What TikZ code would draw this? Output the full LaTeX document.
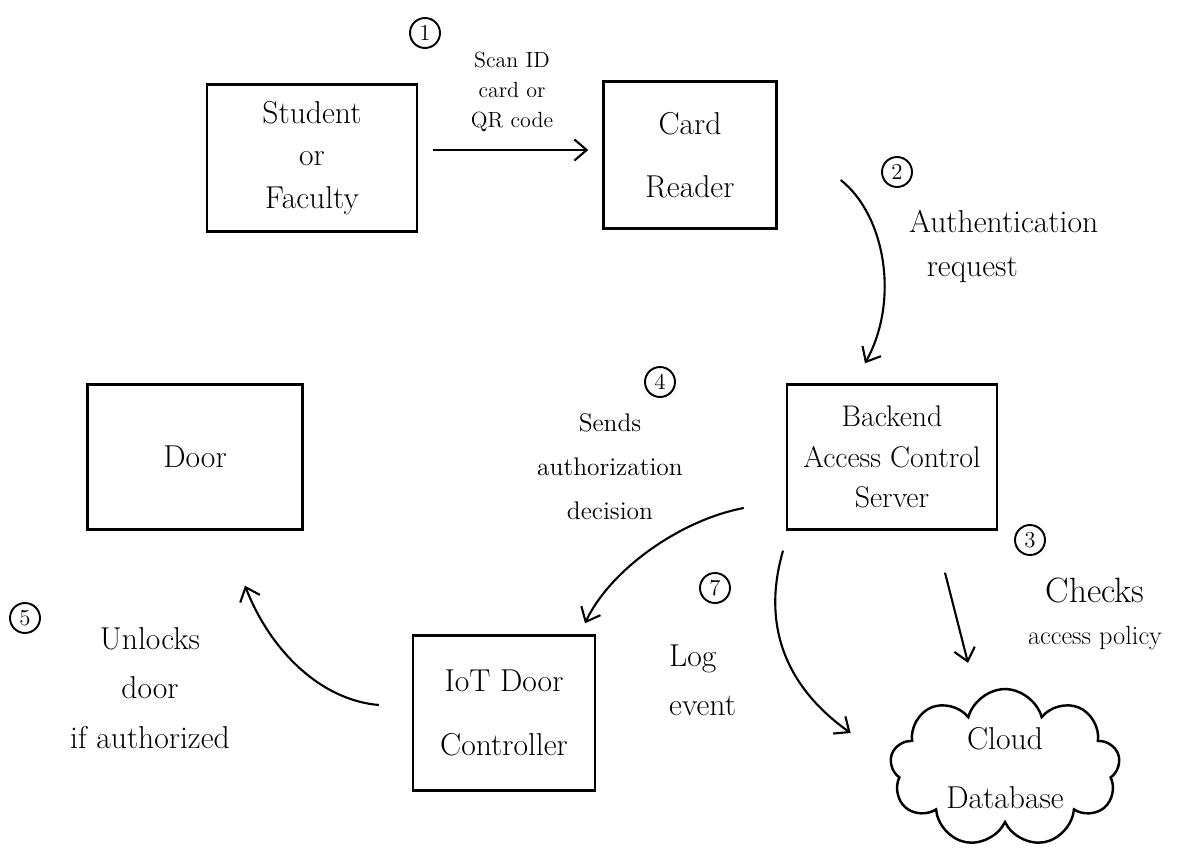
\documentclass[tikz,border=0pt]{standalone}
\usetikzlibrary{shapes.symbols,arrows.meta}
\begin{document}
\begin{tikzpicture}[x=0.02cm,y=-0.02cm,
  box/.style={draw,line width=1.4pt,align=center,inner sep=0pt,font=\fontsize{18}{26}\selectfont},
  num/.style={draw,circle,line width=1.1pt,inner sep=0pt,minimum size=0.6cm,font=\fontsize{13}{14}\selectfont},
  lbl/.style={align=center,font=\fontsize{18}{28}\selectfont},
  slbl/.style={align=center,font=\fontsize{12.5}{17}\selectfont},
  arr/.style={line width=1.2pt,-{Straight Barb[length=7pt,width=12pt]}}]
\path[use as bounding box] (0,0) rectangle (1187,848);

\node[box,minimum width=4.2cm,minimum height=2.94cm,font=\fontsize{18}{24}\selectfont] (stu) at (312,158) {Student\\or\\Faculty};
\node[box,minimum width=3.46cm,minimum height=2.94cm,font=\fontsize{18}{36}\selectfont] (card) at (690,155) {Card\\Reader};
\node[box,minimum width=4.3cm,minimum height=2.9cm] (door) at (195,457) {Door};
\node[box,minimum width=4.2cm,minimum height=2.9cm,font=\fontsize{17}{23}\selectfont] (bk) at (892,457) {Backend\\Access Control\\Server};
\node[box,minimum width=3.64cm,minimum height=3.1cm,font=\fontsize{18}{36}\selectfont] (iot) at (504,713) {IoT Door\\Controller};
\node[draw,cloud,cloud puffs=9,aspect=1.6,line width=1.4pt,minimum width=4.6cm,minimum height=3cm,align=center,inner sep=0pt,font=\fontsize{18}{34}\selectfont] (cl) at (1005,768) {Cloud\\Database};

% step numbers
\node[num] (n1) at (425,33) {1};
\node[num] (n2) at (897,172) {2};
\node[num] (n3) at (1030,540) {3};
\node[num] (n4) at (660,382) {4};
\node[num] (n5) at (25,618) {5};
\node[num] (n7) at (715,588) {7};

% labels
\node[slbl] (l1) at (512,92) {Scan ID\\card or\\QR code};
\node[lbl,align=left,anchor=west,font=\fontsize{18}{25}\selectfont] (l2) at (903,246) {Authentication\\\hspace*{10pt}request};
\node[lbl,font=\fontsize{20}{24}\selectfont] (l3) at (1095,614) {Checks\\{\fontsize{15}{16}\selectfont access policy}};
\node[slbl,font=\fontsize{14.5}{25}\selectfont] (l4) at (610,467) {Sends\\authorization\\decision};
\node[lbl] (l5) at (150,688) {Unlocks\\door\\if authorized};
\node[lbl,align=left,anchor=west] (l7) at (663,680) {Log\\event};

% connectors
\draw[arr] ([shift={(15,-8)}]stu.east) -- ([shift={(-14,-5)}]card.west);
\draw[arr] ([shift={(63,25)}]card.east) .. controls (885,215) and (900,300) .. ([shift={(-27,-20)}]bk.north);
\draw[arr] ([shift={(53,42)}]bk.south) -- ([shift={(-37,-25)}]cl.north);
\draw[arr] ([shift={(-42,51)}]bk.west) .. controls (680,520) and (610,570) .. ([shift={(81,-11)}]iot.north);
\draw[arr] ([shift={(-33,-8)}]iot.west) .. controls (320,700) and (270,650) .. ([shift={(50,55)}]door.south);
\draw[arr] ([shift={(-109,20)}]bk.south) .. controls (760,630) and (790,690) .. ([shift={(-40,-35)}]cl.west);
\end{tikzpicture}
\end{document}
